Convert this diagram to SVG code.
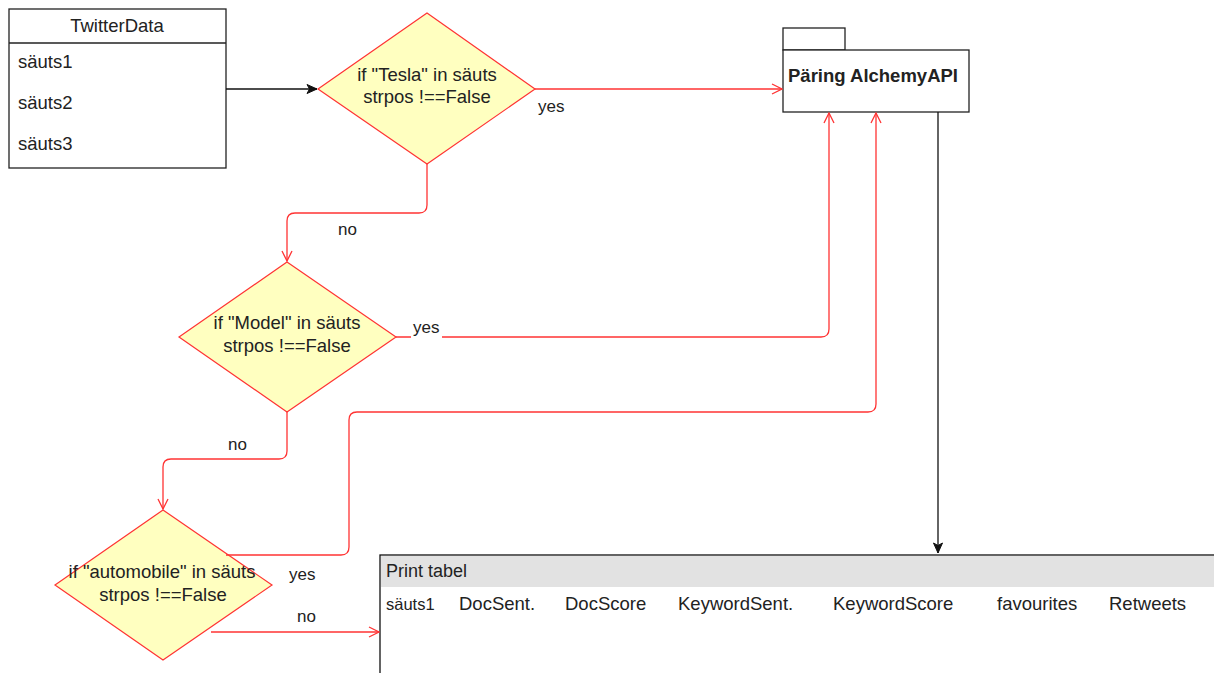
<svg xmlns="http://www.w3.org/2000/svg" width="1214" height="673" viewBox="0 0 1214 673">
<style>
text{font-family:"Liberation Sans",Arial,sans-serif;fill:#222;}
.t14{font-size:18.5px;}
.t13{font-size:17px;}
.dia{fill:#ffffc0;stroke:#ff3333;stroke-width:1.2;}
.box{fill:#fff;stroke:#222;stroke-width:1.3;}
.red{fill:none;stroke:#ff3333;stroke-width:1.3;}
.blk{fill:none;stroke:#111;stroke-width:1.3;}
</style>
<defs>
<marker id="open" viewBox="0 0 12 12" refX="11" refY="6" markerWidth="12" markerHeight="12" markerUnits="userSpaceOnUse" orient="auto">
<path d="M1,1 L11,6 L1,11" fill="none" stroke="#ff3333" stroke-width="1.3"/>
</marker>
<marker id="fill" viewBox="0 0 12 12" refX="11" refY="6" markerWidth="12" markerHeight="12" markerUnits="userSpaceOnUse" orient="auto">
<path d="M1,1.5 L11,6 L1,10.5 L3.5,6 Z" fill="#111" stroke="#111" stroke-width="1"/>
</marker>
</defs>
<rect width="1214" height="673" fill="#fff"/>

<g id="twitterdata">
<rect class="box" x="9" y="9" width="217" height="159"/>
<line class="box" x1="9" y1="43" x2="226" y2="43"/>
<text class="t14" x="117" y="32" text-anchor="middle">TwitterData</text>
<text class="t14" x="18" y="68">säuts1</text>
<text class="t14" x="18" y="109">säuts2</text>
<text class="t14" x="18" y="150">säuts3</text>
</g>

<g id="tesla">
<polygon class="dia" points="427,13 535,89 427,164 318,89"/>
<text class="t14" x="427" y="81" text-anchor="middle">if "Tesla" in säuts</text>
<text class="t14" x="427" y="103" text-anchor="middle">strpos !==False</text>
</g>

<g id="alchemy">
<rect class="box" x="783" y="28" width="62" height="22"/>
<rect class="box" x="783" y="50" width="186" height="62"/>
<text class="t14" x="788" y="82" font-weight="bold">Päring AlchemyAPI</text>
</g>

<g id="model">
<polygon class="dia" points="287,262 396,337 287,412 179,337"/>
<text class="t14" x="287" y="329" text-anchor="middle">if "Model" in säuts</text>
<text class="t14" x="287" y="352" text-anchor="middle">strpos !==False</text>
</g>

<g id="automobile">
<polygon class="dia" points="163,510 272,585 163,660 55,585"/>
<text class="t14" x="162" y="578" text-anchor="middle">if "automobile" in säuts</text>
<text class="t14" x="163" y="601" text-anchor="middle">strpos !==False</text>
</g>

<g id="printtabel">
<rect x="380" y="555" width="840" height="130" fill="#fff" stroke="#111" stroke-width="1.3"/>
<rect x="381" y="556" width="833" height="31" fill="#e2e2e2"/>
<text class="t13" x="386" y="577" style="font-size:18px">Print tabel</text>
<text class="t13" x="386" y="610" style="font-size:16.5px">säuts1</text>
<text class="t14" x="459" y="610">DocSent.</text>
<text class="t14" x="565" y="610">DocScore</text>
<text class="t14" x="678" y="610">KeywordSent.</text>
<text class="t14" x="833" y="610">KeywordScore</text>
<text class="t14" x="997" y="610">favourites</text>
<text class="t14" x="1109" y="610">Retweets</text>
</g>

<g id="connectors">
<path class="blk" d="M226,89 L317,89" marker-end="url(#fill)"/>
<path class="red" d="M535,89 L782,89" marker-end="url(#open)"/>
<path class="red" d="M427,164 L427,205 Q427,213 419,213 L295,213 Q287,213 287,221 L287,261" marker-end="url(#open)"/>
<path class="red" d="M396,337 L411,337 M442,337 L821,337 Q829,337 829,329 L829,113" marker-end="url(#open)"/>
<path class="red" d="M287,412 L287,451 Q287,459 279,459 L171,459 Q163,459 163,467 L163,509" marker-end="url(#open)"/>
<path class="red" d="M226,555 L341,555 Q349,555 349,547 L349,420 Q349,412 357,412 L868,412 Q876,412 876,404 L876,113" marker-end="url(#open)"/>
<path class="red" d="M211,632 L379,632" marker-end="url(#open)"/>
<path class="blk" d="M938,112 L938,553" marker-end="url(#fill)"/>
<text class="t13" x="538" y="112">yes</text>
<text class="t13" x="338" y="235">no</text>
<text class="t13" x="413" y="333">yes</text>
<text class="t13" x="228" y="450">no</text>
<text class="t13" x="289" y="580">yes</text>
<text class="t13" x="297" y="622">no</text>
</g>
</svg>
